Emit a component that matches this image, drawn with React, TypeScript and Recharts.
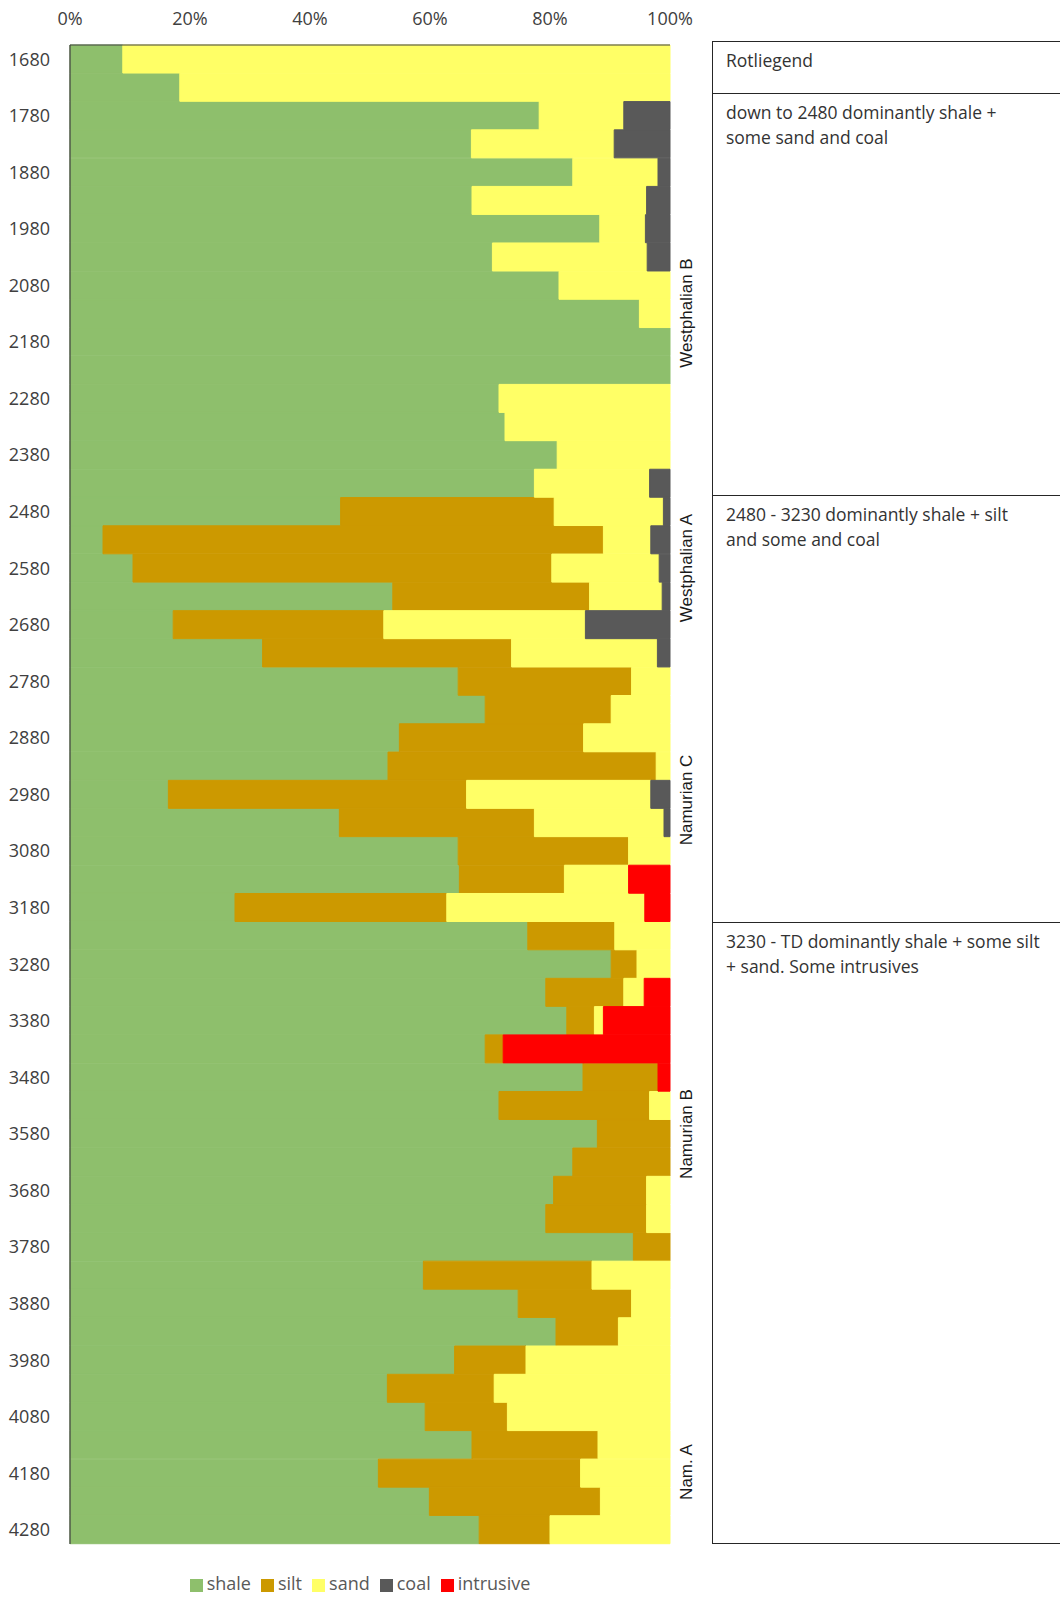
import React from 'react';
import { BarChart, Bar, XAxis, YAxis, Legend } from 'recharts';

const depths = [
  1680, 1730, 1780, 1830, 1880, 1930, 1980, 2030, 2080, 2130, 2180, 2230, 2280, 2330,
  2380, 2430, 2480, 2530, 2580, 2630, 2680, 2730, 2780, 2830, 2880, 2930, 2980, 3030,
  3080, 3130, 3180, 3230, 3280, 3330, 3380, 3430, 3480, 3530, 3580, 3630, 3680, 3730,
  3780, 3830, 3880, 3930, 3980, 4030, 4080, 4130, 4180, 4230, 4280,
];

// percentages per 50 m interval
const shale = [
  8.8, 18.3, 78.2, 66.9, 83.8, 67.0, 88.3, 70.4, 81.5, 94.9, 100, 100, 71.5, 72.5,
  81.2, 77.4, 45.1, 5.5, 10.5, 53.8, 17.2, 32.1, 64.7, 69.2, 54.9, 53.0, 16.4, 44.9,
  64.7, 64.9, 27.5, 76.3, 90.2, 79.3, 82.8, 69.2, 85.5, 71.5, 87.9, 83.8, 80.6, 79.3,
  93.9, 58.9, 74.7, 81.0, 64.1, 52.9, 59.2, 67.0, 51.4, 59.9, 68.2,
];
const silt = [
  0, 0, 0, 0, 0, 0, 0, 0, 0, 0, 0, 0, 0, 0,
  0, 0, 35.6, 83.4, 69.8, 32.8, 35.1, 41.5, 28.9, 21.0, 30.7, 44.7, 49.7, 32.5,
  28.4, 17.5, 35.3, 14.5, 4.3, 13.0, 4.6, 3.0, 12.5, 25.1, 12.1, 16.2, 15.5, 16.8,
  6.1, 28.1, 18.9, 10.4, 11.9, 17.8, 13.7, 21.0, 33.7, 28.5, 11.8,
];
const sand = [
  91.2, 81.7, 14.1, 23.8, 14.2, 29.1, 7.6, 25.8, 18.5, 5.1, 0, 0, 28.5, 27.5,
  18.8, 19.2, 18.2, 7.9, 17.9, 12.1, 33.6, 24.3, 6.4, 9.8, 14.4, 2.3, 30.7, 21.6,
  6.9, 10.7, 33.0, 9.2, 5.5, 3.4, 1.5, 0, 0, 3.4, 0, 0, 3.9, 3.9,
  0, 13.0, 6.4, 8.6, 24.0, 29.3, 27.1, 12.0, 14.9, 11.6, 20.0,
];
const coal = [
  0, 0, 7.7, 9.3, 2.0, 3.9, 4.1, 3.8, 0, 0, 0, 0, 0, 0,
  0, 3.4, 1.1, 3.2, 1.8, 1.3, 14.1, 2.1, 0, 0, 0, 0, 3.2, 1.0,
  0, 0, 0, 0, 0, 0, 0, 0, 0, 0, 0, 0, 0, 0,
  0, 0, 0, 0, 0, 0, 0, 0, 0, 0, 0,
];
const intrusive = [
  0, 0, 0, 0, 0, 0, 0, 0, 0, 0, 0, 0, 0, 0,
  0, 0, 0, 0, 0, 0, 0, 0, 0, 0, 0, 0, 0, 0,
  0, 6.9, 4.2, 0, 0, 4.3, 11.1, 27.8, 2.0, 0, 0, 0, 0, 0,
  0, 0, 0, 0, 0, 0, 0, 0, 0, 0, 0,
];

const pctTicks = [0, 0.2, 0.4, 0.6, 0.8, 1];

const series = [
  { key: 'shale', color: '#8EBF6C' },
  { key: 'silt', color: '#CC9900' },
  { key: 'sand', color: '#FFFF66' },
  { key: 'coal', color: '#595959' },
  { key: 'intrusive', color: '#FF0000' },
];

const stages = [
  { name: 'Westphalian B', y: 313 },
  { name: 'Westphalian A', y: 568 },
  { name: 'Namurian C', y: 800 },
  { name: 'Namurian B', y: 1134 },
  { name: 'Nam. A', y: 1472 },
];

const notes = [
  { top: 41, bottom: 93, lines: ['Rotliegend'] },
  { top: 93, bottom: 495, lines: ['down to 2480 dominantly shale +', 'some sand and coal'] },
  { top: 495, bottom: 922, lines: ['2480 - 3230 dominantly shale + silt', 'and some and coal'] },
  { top: 922, bottom: 1544, lines: ['3230 - TD dominantly shale + some silt', '+ sand. Some intrusives'] },
];

const data = depths.map((d, i) => ({
  depth: d,
  shale: shale[i],
  silt: silt[i],
  sand: sand[i],
  coal: coal[i],
  intrusive: intrusive[i],
}));

const tickFont = { fill: '#404040', fontSize: 18, fontFamily: 'Open Sans' };
const frame = { stroke: '#404040', strokeWidth: 1.2 };

export default function App() {
  return (
    <div style={{ position: 'absolute', left: 0, top: 0, width: 1060, height: 1598, background: '#fff', overflow: 'hidden' }}>
      <BarChart
        width={1060}
        height={1598}
        data={data}
        layout="vertical"
        stackOffset="expand"
        barCategoryGap={0}
        barGap={0}
        margin={{ top: 15, right: 390, bottom: 28, left: 10 }}
      >
        <XAxis
          type="number"
          orientation="top"
          ticks={pctTicks}
          domain={[0, 1]}
          tickFormatter={(v: number) => `${Math.round(v * 100)}%`}
          tickLine={false}
          tickMargin={14}
          axisLine={frame}
          tick={tickFont}
          height={30}
        />
        <XAxis xAxisId="b" type="number" orientation="bottom" domain={[0, 1]} tick={false} tickLine={false} axisLine={frame} height={0} />
        <YAxis
          type="category"
          dataKey="depth"
          interval={1}
          tickLine={false}
          tickMargin={14}
          axisLine={frame}
          tick={tickFont}
          width={60}
        />
        <YAxis yAxisId="r" type="category" dataKey="depth" orientation="right" tick={false} tickLine={false} axisLine={frame} width={0} />
        <Legend
          verticalAlign="bottom"
          iconType="square"
          iconSize={13}
          height={26}
          itemSorter={(item: any) => series.findIndex((s) => s.key === item.dataKey)}
          wrapperStyle={{ top: 1572, left: 55, width: 620, fontFamily: 'Open Sans', fontSize: 18, lineHeight: '22px' }}
          formatter={(value: string) => <span style={{ color: '#595959' }}>{value}</span>}
        />
        {series.map((s) => (
          <Bar
            key={s.key}
            dataKey={s.key}
            stackId="a"
            fill={s.color}
            stroke={s.color}
            strokeWidth={1}
            isAnimationActive={false}
          />
        ))}
      </BarChart>

      {stages.map((s) => (
        <div
          key={s.name}
          style={{
            position: 'absolute',
            left: 687,
            top: s.y,
            transform: 'translate(-50%, -50%) rotate(-90deg)',
            whiteSpace: 'nowrap',
            fontFamily: 'Liberation Sans',
            fontSize: 17,
            color: '#1a1a1a',
          }}
        >
          {s.name}
        </div>
      ))}

      {notes.map((n, i) => (
        <div
          key={i}
          style={{
            position: 'absolute',
            left: 712,
            top: n.top,
            width: 360,
            height: n.bottom - n.top,
            boxSizing: 'border-box',
            borderLeft: '1.5px solid #262626',
            borderTop: '1.5px solid #262626',
            borderBottom: i === notes.length - 1 ? '1.5px solid #262626' : 'none',
            padding: '6px 0 0 13px',
            fontFamily: 'Open Sans',
            fontSize: 17.5,
            lineHeight: '24.5px',
            color: '#333333',
          }}
        >
          {n.lines.map((l) => (
            <div key={l}>{l}</div>
          ))}
        </div>
      ))}
    </div>
  );
}
